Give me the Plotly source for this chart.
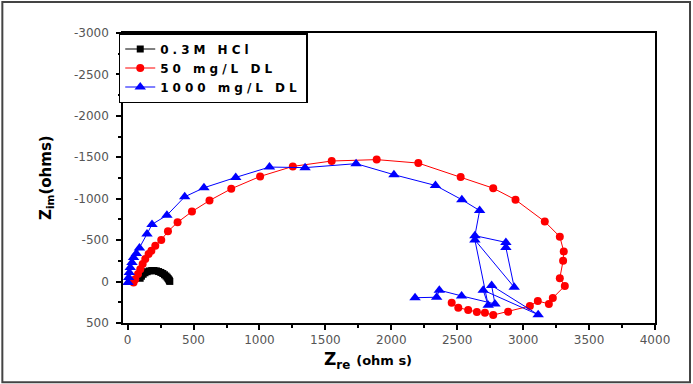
import plotly.graph_objects as go

# ---- data ----
hcl_x = [95, 105, 118, 132, 148, 165, 183, 200, 218, 235, 252, 267, 280, 291, 300, 307, 313, 317, 320]
hcl_y = [-40, -65, -88, -106, -119, -128, -133, -133, -129, -121, -110, -97, -82, -67, -52, -37, -23, -11, -2]

dl50_x = [45, 58, 79, 96, 114, 134, 159, 180, 210, 255, 306, 379, 488, 621, 786, 1005, 1253, 1548, 1889,
          2205, 2526, 2773, 2942, 3164, 3278, 3308, 3303, 3278, 3316, 3225, 3195, 3111, 3051, 2886,
          2773, 2710, 2649, 2583, 2508, 2458]
dl50_y = [12, -29, -90, -150, -211, -272, -332, -372, -433, -502, -606, -715, -845, -978, -1120, -1269,
          -1390, -1455, -1472, -1430, -1261, -1127, -987, -724, -542, -364, -251, -41, 52, 198, 270,
          234, 295, 364, 404, 376, 367, 343, 315, 255]

dl1000_x = [3, 8, 13, 20, 33, 45, 66, 90, 147, 185, 298, 433, 579, 820, 1076, 1346, 1733, 2020, 2335,
            2535, 2670, 2634, 2869, 2869, 2932, 2634, 2735, 2697, 3114, 2761, 2786, 2533, 2364, 2344, 2180]
dl1000_y = [12, -48, -109, -170, -230, -291, -340, -405, -575, -690, -800, -1023, -1132, -1257, -1382,
            -1375, -1423, -1290, -1160, -988, -857, -554, -473, -412, 68, -502, 286, 104, 400, 48, 270,
            173, 104, 189, 195]

x_tickvals = [0, 500, 1000, 1500, 2000, 2500, 3000, 3500, 4000]
x_ticktext = ["0", "500", "1000", "1500", "2000", "2500", "3000", "3500", "4000"]
y_tickvals = [-3000, -2500, -2000, -1500, -1000, -500, 0, 500]
y_ticktext = ["-3000", "-2500", "-2000", "-1500", "-1000", "-500", "0", "500"]

names = ["0.3M HCl", "50 mg/L DL", "1000 mg/L DL"]

fig = go.Figure()
fig.add_trace(go.Scatter(x=hcl_x, y=hcl_y, name=names[0], mode="lines+markers",
                         line=dict(color="black", width=1),
                         marker=dict(symbol="square", size=7, color="black")))
fig.add_trace(go.Scatter(x=dl50_x, y=dl50_y, name=names[1], mode="lines+markers",
                         line=dict(color="#ff0000", width=1),
                         marker=dict(symbol="circle", size=8, color="#ff0000")))
fig.add_trace(go.Scatter(x=dl1000_x, y=dl1000_y, name=names[2], mode="lines+markers",
                         line=dict(color="#0000ff", width=1),
                         marker=dict(symbol="triangle-up", size=10, color="#0000ff")))

tickfont = dict(family="DejaVu Sans", size=12, color="#555555")
fig.update_xaxes(range=[-35, 4000], tickvals=x_tickvals, ticktext=x_ticktext,
                 showline=True, linecolor="black", linewidth=1.5, mirror=True,
                 ticks="outside", ticklen=5, tickwidth=1.5, tickcolor="black",
                 minor=dict(dtick=250, tick0=0, ticks="outside", ticklen=3, tickcolor="black"),
                 showgrid=False, zeroline=False, tickfont=tickfont)
fig.update_yaxes(range=[500, -3000], tickvals=y_tickvals, ticktext=y_ticktext,
                 showline=True, linecolor="black", linewidth=1.5, mirror=True,
                 ticks="outside", ticklen=5, tickwidth=1.5, tickcolor="black", ticklabelstandoff=5,
                 minor=dict(dtick=250, tick0=0, ticks="outside", ticklen=3, tickcolor="black"),
                 showgrid=False, zeroline=False, tickfont=tickfont)

fig.update_layout(
    width=693, height=384,
    margin=dict(l=123, r=38, t=33, b=61),
    paper_bgcolor="white", plot_bgcolor="white",
    showlegend=True,
    legend=dict(x=-0.008, y=1.0, xanchor="left", yanchor="top",
                bgcolor="white", bordercolor="black", borderwidth=1.5,
                font=dict(family="DejaVu Sans", size=12, color="black"),
                tracegroupgap=0, itemwidth=30),
    annotations=[
        dict(text="<b>Z<sub>im</sub>(ohms)</b>", xref="paper", yref="paper", x=-0.145, y=0.503,
             xanchor="center", yanchor="middle",
             textangle=-90, showarrow=False, font=dict(family="DejaVu Sans", size=15, color="black")),
        dict(text="<b>Z<sub>re</sub> <span style='font-size:13px'>(ohm s)</span></b>", xref="paper", yref="paper",
             x=0.4605, y=-0.13, xanchor="center", yanchor="middle", showarrow=False,
             font=dict(family="DejaVu Sans", size=17, color="black")),
    ],
    shapes=[dict(type="rect", xref="paper", yref="paper", x0=-0.2268, x1=1.0658, y0=-0.2047, y1=1.107,
                 line=dict(color="#444444", width=2))],
)
fig.for_each_trace(lambda t: t.update(
    name="<b><span style='letter-spacing:4px'>" + t.name + "</span></b>"))

fig.write_html("out.html", post_script="document.body.style.margin='0';",
               config={"displayModeBar": False})
